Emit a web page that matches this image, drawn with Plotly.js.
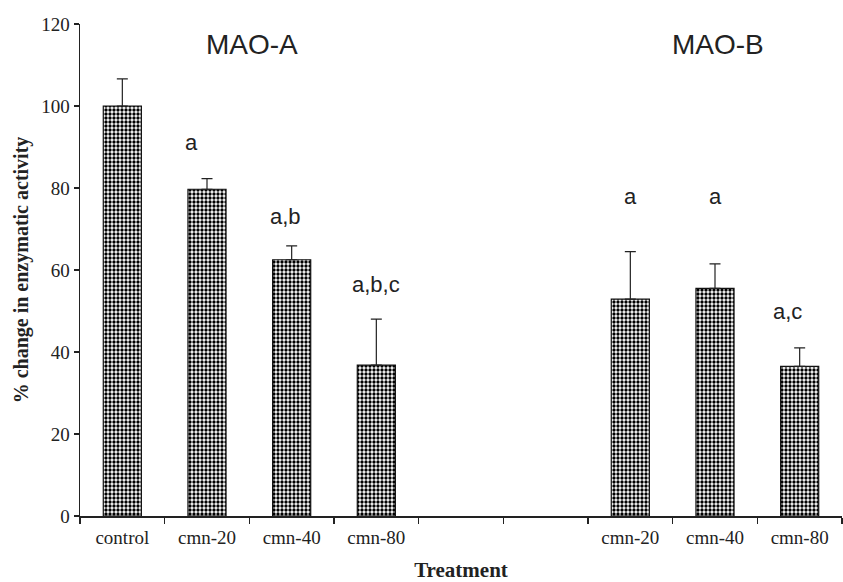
<!DOCTYPE html>
<html>
<head>
<meta charset="utf-8">
<script src="https://cdn.plot.ly/plotly-3.0.1.min.js"></script>
<style>html,body{margin:0;padding:0;background:#fff;}#chart{width:843px;height:582px;}</style>
</head>
<body>
<div id="chart"></div>
<script>
// Category slots (unique ids) and the labels shown under them
const categories = ['A-control', 'A-cmn-20', 'A-cmn-40', 'A-cmn-80', 'gap1', 'gap2', 'B-cmn-20', 'B-cmn-40', 'B-cmn-80'];
const tickLabels = ['control', 'cmn-20', 'cmn-40', 'cmn-80', '', '', 'cmn-20', 'cmn-40', 'cmn-80'];
// % change in enzymatic activity (null = empty slot)
const values = [100, 79.7, 62.5, 36.8, null, null, 52.9, 55.5, 36.5];
const errorsUp = [6.6, 2.6, 3.4, 11.2, null, null, 11.6, 6.0, 4.5];
// Significance letters
const sigLabels = ['', 'a', 'a,b', 'a,b,c', '', '', 'a', 'a', 'a,c'];
const sigY = [null, 91, 73, 56.5, null, null, 78, 78, 50];
const sigShift = [0, -16, -6, 0, 0, 0, 0, 0, -12];
// Group titles
const groupTitles = ['MAO-A', 'MAO-B'];
const groupPos = [1.5, 7];
const groupY = [115, 115];

const trace = {
  type: 'bar',
  x: categories,
  y: values,
  width: 0.45,
  marker: {
    color: '#ffffff',
    line: {color: '#111', width: 1.2},
    pattern: {shape: '.', fgcolor: '#000', bgcolor: '#fff', size: 4, solidity: 0.55, fillmode: 'replace'}
  },
  error_y: {
    type: 'data', symmetric: false,
    array: errorsUp,
    arrayminus: errorsUp.map(v => v === null ? null : 0),
    color: '#222', thickness: 1.2, width: 5.5
  },
  hoverinfo: 'skip'
};

const annotations = [];
sigLabels.forEach((t, i) => {
  if (t) annotations.push({
    x: categories[i], y: sigY[i], xref: 'x', yref: 'y', text: t, showarrow: false,
    xshift: sigShift[i], yanchor: 'middle',
    font: {family: 'Liberation Sans, Arial, sans-serif', size: 22, color: '#222'}
  });
});
groupTitles.forEach((t, i) => {
  annotations.push({
    x: groupPos[i], y: groupY[i], xref: 'x', yref: 'y', text: t, showarrow: false,
    yanchor: 'middle', xshift: 3,
    font: {family: 'Liberation Sans, Arial, sans-serif', size: 28, color: '#222'}
  });
});

const layout = {
  width: 843, height: 582,
  margin: {l: 80, r: 1, t: 24, b: 66},
  paper_bgcolor: '#fff', plot_bgcolor: '#fff',
  showlegend: false,
  font: {family: 'Liberation Serif, Times New Roman, serif', color: '#222'},
  xaxis: {
    type: 'category',
    categoryorder: 'array', categoryarray: categories,
    tickmode: 'array', tickvals: categories, ticktext: tickLabels,
    tickson: 'boundaries',
    range: [-0.5, 8.5],
    showline: true, linecolor: '#222', linewidth: 1.5,
    ticks: 'outside', ticklen: 6, tickcolor: '#222', tickwidth: 1.5,
    ticklabelstandoff: 4,
    showgrid: false, zeroline: false,
    tickfont: {family: 'Liberation Serif, Times New Roman, serif', size: 19, color: '#222'},
    title: {text: '<b>Treatment</b>', standoff: 21,
      font: {family: 'Liberation Serif, Times New Roman, serif', size: 21, color: '#222'}}
  },
  yaxis: {
    range: [0, 120], tickvals: [0, 20, 40, 60, 80, 100, 120],
    showline: true, linecolor: '#222', linewidth: 1.5,
    ticks: 'outside', ticklen: 5, tickcolor: '#222', tickwidth: 1.5,
    showgrid: false, zeroline: false,
    tickfont: {family: 'Liberation Serif, Times New Roman, serif', size: 19, color: '#222'},
    title: {text: '<b>% change in enzymatic activity</b>', standoff: 7,
      font: {family: 'Liberation Serif, Times New Roman, serif', size: 20, color: '#222'}}
  },
  annotations: annotations
};

Plotly.newPlot('chart', [trace], layout, {displayModeBar: false, staticPlot: true});
</script>
</body>
</html>
